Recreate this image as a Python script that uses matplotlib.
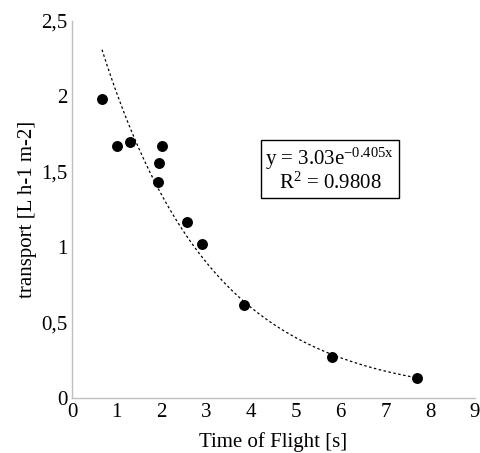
import numpy as np
import matplotlib
matplotlib.use('Agg')
import matplotlib.pyplot as plt

plt.rcParams['font.family'] = ['Liberation Serif', 'DejaVu Serif']
plt.rcParams['mathtext.fontset'] = 'custom'
plt.rcParams['mathtext.rm'] = 'Liberation Serif'
plt.rcParams['mathtext.it'] = 'Liberation Serif'

# dados
tempo = [0.67, 1.0, 1.3, 1.93, 1.95, 2.01, 2.57, 2.9, 3.85, 5.8, 7.7]
transporte = [1.98, 1.67, 1.70, 1.43, 1.56, 1.67, 1.17, 1.02, 0.62, 0.27, 0.13]
coef_a = 3.03
coef_b = -0.405
r2 = 0.9808
xticks = [0, 1, 2, 3, 4, 5, 6, 7, 8, 9]
yticks = [0, 0.5, 1, 1.5, 2, 2.5]
ylabels = ['0', '0,5', '1', '1,5', '2', '2,5']

fig = plt.figure(figsize=(4.8, 4.53), dpi=100)
ax = fig.add_axes([0.15, 0.1214, 0.8396, 0.8322])

ax.scatter(tempo, transporte, s=62, color='black', linewidths=0, zorder=3)

xs = np.linspace(min(tempo), max(tempo), 200)
ax.plot(xs, coef_a * np.exp(coef_b * xs), color='black', lw=0.9,
        linestyle=(0, (2, 2)), zorder=2)

ax.set_xlim(0, 9)
ax.set_ylim(0, 2.5)
ax.set_xticks(xticks)
ax.set_yticks(yticks)
ax.set_yticklabels(ylabels)
ax.tick_params(length=0, labelsize=15, pad=3.5)

for lado in ['top', 'right']:
    ax.spines[lado].set_visible(False)
for lado in ['left', 'bottom']:
    ax.spines[lado].set_color('#bfbfbf')
    ax.spines[lado].set_linewidth(1)

ax.set_xlabel('Time of Flight [s]', fontsize=15)
ax.set_ylabel('transport [L h-1 m-2]', fontsize=15)
ax.xaxis.set_label_coords(0.5, -0.09)
ax.yaxis.set_label_coords(-0.087, 0.5)

ax.text(0.64, 0.605,
        'y = %.2fe$^{\\mathrm{%.3fx}}$\nR$^2$ = %.4f' % (coef_a, coef_b, r2),
        transform=ax.transAxes, ha='center', va='center', fontsize=15,
        linespacing=1.0,
        bbox=dict(boxstyle='square,pad=0.2', facecolor='white',
                  edgecolor='black', lw=1))

fig.savefig('out.png', dpi=100)
